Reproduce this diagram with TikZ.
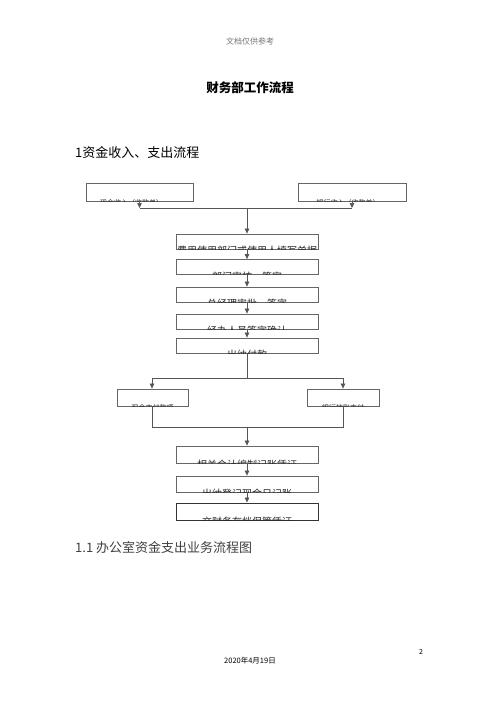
\documentclass[tikz,border=0pt]{standalone}
\usepackage{fontspec}
\setmainfont{Noto Sans CJK SC}
\usetikzlibrary{arrows.meta}
\definecolor{boxline}{HTML}{666666}
\definecolor{lineclr}{HTML}{555555}
\definecolor{hdr}{HTML}{777777}
\tikzset{
  flowbox/.style={draw=boxline, line width=0.8pt, minimum height=15pt, inner sep=0pt},
  conn/.style={draw=lineclr, line width=0.7pt},
  arr/.style={conn, -{Triangle[length=5pt,width=4.5pt]}},
  boxtext/.style={inner sep=0pt, font=\fontsize{10}{10}\selectfont, text=black!85},
  smalltext/.style={inner sep=0pt, font=\fontsize{7}{7}\selectfont, text=black!85}
}
\newcommand{\cliptext}[4]{% box name, style, text, shift
  \begin{scope}
    \clip (#1.south west) rectangle (#1.north east);
    \node[#2] (#1t) at ([yshift=#4]#1.south) {#3};
  \end{scope}}
\begin{document}
\begin{tikzpicture}[x=1pt,y=-1pt]
\useasboundingbox[fill=white] (0,0) rectangle (500,707);

\node[font=\fontsize{8}{8}\selectfont, text=hdr] (hdr) at (250,41) {文档仅供参考};
\node[font=\fontsize{12.5}{12.5}\selectfont\bfseries] (title) at (250,88) {财务部工作流程};
\node[font=\fontsize{13}{13}\selectfont, anchor=west, inner sep=0pt] (sec1) at (75,153) {1资金收入、支出流程};

% top boxes
\node[flowbox, minimum width=107pt, minimum height=18pt] (inL) at (139.5,192) {};
\node[flowbox, minimum width=108pt, minimum height=18pt] (inR) at (352,192) {};
\cliptext{inL}{smalltext, xshift=-8pt}{现金收入（收款单）}{-1pt}
\cliptext{inR}{smalltext, xshift=-4pt}{银行收入（收款单）}{-1pt}

\coordinate (jL) at (139.5,208);
\coordinate (jR) at (352,208);
\coordinate (jC) at (247,208);
\draw[arr] (inL.south) -- (jL);
\draw[arr] (inR.south) -- (jR);
\draw[conn] (jL) -- (jR);

% main chain
\node[flowbox, minimum width=142pt] (b2) at (247,241.5) {};
\node[flowbox, minimum width=142pt] (b3) at (247,267) {};
\node[flowbox, minimum width=142pt] (b4) at (247,294.5) {};
\node[flowbox, minimum width=142pt] (b5) at (247,321.5) {};
\node[flowbox, minimum width=142pt] (b6) at (247,345.5) {};
\cliptext{b2}{boxtext}{费用使用部门或使用人填写单据}{-1.5pt}
\cliptext{b3}{boxtext}{部门审核、签字}{-1.5pt}
\cliptext{b4}{boxtext}{总经理审批、签字}{-1.5pt}
\cliptext{b5}{boxtext}{经办人员签字确认}{-1.5pt}
\cliptext{b6}{boxtext}{出纳付款}{-1.5pt}

\draw[arr] (jC) -- (b2.north);
\draw[arr] (b2) -- (b3);
\draw[arr] (b3) -- (b4);
\draw[arr] (b4) -- (b5);
\draw[arr] (b5) -- (b6);

% split
\coordinate (sC) at (247,378);
\coordinate (sL) at (152,378);
\coordinate (sR) at (343,378);
\node[flowbox, minimum width=71pt, minimum height=17pt] (pL) at (152.5,397.5) {};
\node[flowbox, minimum width=72pt, minimum height=17pt] (pR) at (343,397.5) {};
\cliptext{pL}{smalltext}{现金支付款项}{-1pt}
\cliptext{pR}{smalltext}{银行转账支付}{-1pt}
\draw[conn] (b6.south) -- (sC);
\draw[conn] (sL) -- (sR);
\draw[arr] (sL) -- (pL.north -| sL);
\draw[arr] (sR) -- (pR.north -| sR);

% merge
\coordinate (mL) at (152,427);
\coordinate (mR) at (343,427);
\coordinate (mC) at (247,427);
\draw[conn] (pL.south -| mL) -- (mL) -- (mR) -- (pR.south -| mR);

\node[flowbox, minimum width=142pt, minimum height=17pt] (b8) at (247,454.5) {};
\node[flowbox, minimum width=142pt, minimum height=16pt] (b9) at (247,484) {};
\node[flowbox, draw=black!80, line width=1pt, minimum width=142pt, minimum height=17pt] (b10) at (247,511.5) {};
\cliptext{b8}{boxtext}{相关会计编制记账凭证}{-1.5pt}
\cliptext{b9}{boxtext}{出纳登记现金日记账}{-1.5pt}
\cliptext{b10}{boxtext}{交财务存档保管凭证}{-1.5pt}
\draw[arr] (mC) -- (b8.north);
\draw[arr] (b8) -- (b9);
\draw[arr] (b9) -- (b10);

\node[font=\fontsize{13}{13}\selectfont, text=black!75, anchor=west, inner sep=0pt] (sec2) at (75,548) {1.1 办公室资金支出业务流程图};

\node[font=\fontsize{7}{7}\selectfont] (pg) at (421,652) {2};
\node[font=\fontsize{7.5}{7.5}\selectfont] (date) at (250,661) {2020年4月19日};
\end{tikzpicture}
\end{document}
